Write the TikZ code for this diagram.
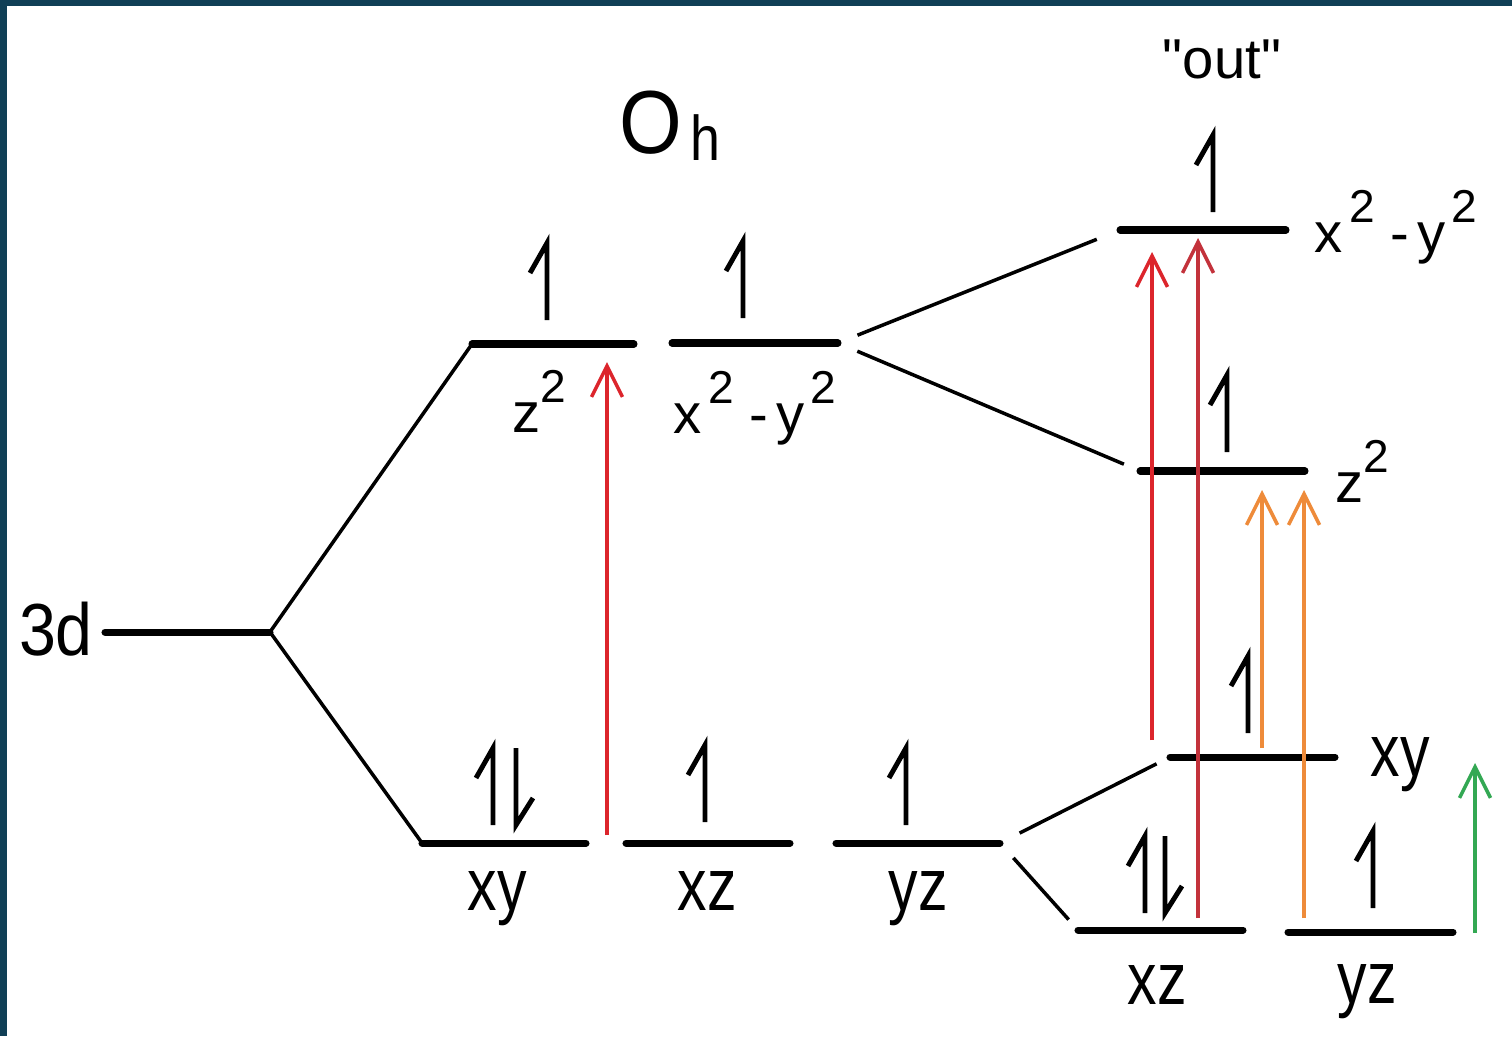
\documentclass[tikz,border=0pt]{standalone}
\usepackage{fontspec}
\setmainfont{Liberation Sans}[Ligatures=TeXOff]
\usepackage{graphicx}
\usetikzlibrary{arrows.meta,positioning}
\definecolor{framedark}{HTML}{103F56}
\definecolor{exred}{HTML}{DC252C}
\definecolor{excrimson}{HTML}{C3323B}
\definecolor{exorange}{HTML}{EE8B3A}
\definecolor{exgreen}{HTML}{33A853}
\newcommand{\sq}{\raisebox{0.52em}{\scalebox{0.82}{2}}}
\newcommand{\nar}[1]{\scalebox{0.8}[1]{#1}}

\begin{document}
\begin{tikzpicture}[
  x=0.02cm, y=-0.02cm,
  level/.style={line width=4pt, line cap=round},
  corr/.style={line width=2pt},
  spin/.style={line width=2.8pt},
  orblab/.style={inner sep=0pt, anchor=base, font=\fontsize{42}{48}\selectfont},
  suplab/.style={inner sep=0pt, anchor=base, font=\fontsize{32}{38}\selectfont},
  trans/.style={line width=2pt, -{Straight Barb[length=0.62cm, width=0.62cm]}}
]
  % canvas and frame
  \fill[white] (0,0) rectangle (1512,1036);
  \fill[framedark] (0,0) rectangle (1512,6);
  \fill[framedark] (0,0) rectangle (7,1036);

  % level end points
  \coordinate (d-l) at (105,632);    \coordinate (d-r) at (270,632);
  \coordinate (ohz-l) at (472,344);  \coordinate (ohz-r) at (634,344);
  \coordinate (ohx-l) at (672,343);  \coordinate (ohx-r) at (838,343);
  \coordinate (ohxy-l) at (422,843); \coordinate (ohxy-r) at (586,843);
  \coordinate (ohxz-l) at (626,843); \coordinate (ohxz-r) at (790,843);
  \coordinate (ohyz-l) at (836,843); \coordinate (ohyz-r) at (1000,843);
  \coordinate (ox-l) at (1120,230);  \coordinate (ox-r) at (1286,230);
  \coordinate (oz-l) at (1140,471);  \coordinate (oz-r) at (1305,471);
  \coordinate (oxy-l) at (1170,757); \coordinate (oxy-r) at (1335,757);
  \coordinate (oxz-l) at (1078,930); \coordinate (oxz-r) at (1243,930);
  \coordinate (oyz-l) at (1288,932); \coordinate (oyz-r) at (1453,932);

  % levels
  \foreach \lv in {d, ohz, ohx, ohxy, ohxz, ohyz, ox, oz, oxy, oxz, oyz}
    \draw[level] (\lv-l) -- (\lv-r);

  % correlation lines
  \draw[corr] (d-r) -- (ohz-l);
  \draw[corr] (d-r) -- (ohxy-l);
  \draw[corr, shorten <=0.42cm, shorten >=0.5cm] (ohx-r) -- (ox-l);
  \draw[corr, shorten <=0.42cm, shorten >=0.35cm] (ohx-r) -- (oz-l);
  \draw[corr, shorten <=0.44cm, shorten >=0.3cm] (ohyz-r) -- (oxy-l);
  \draw[corr, shorten <=0.4cm, shorten >=0.28cm] (ohyz-r) -- (oxz-l);

  % electrons
  \foreach \sx/\sy in {547/320, 743/318, 493/825, 705/822, 906/825,
                       1213/212, 1227/452, 1248/733, 1145/913, 1373/908}
    \draw[spin] (\sx,\sy) -- ++(0,-77) -- ++(-17,30);
  \foreach \sx/\sy in {516/825, 1165/913}
    \draw[spin] (\sx,\sy) ++(0,-77) -- (\sx,\sy) -- ++(17,-27);

  % transitions
  \coordinate (ta-s) at (607,835);  \coordinate (ta-e) at (607,362);
  \coordinate (tb-s) at (1152,740); \coordinate (tb-e) at (1152,252);
  \coordinate (tc-s) at (1198,918); \coordinate (tc-e) at (1198,238);
  \coordinate (td-s) at (1262,748); \coordinate (td-e) at (1262,490);
  \coordinate (te-s) at (1304,918); \coordinate (te-e) at (1304,490);
  \coordinate (tf-s) at (1475,933); \coordinate (tf-e) at (1475,763);
  \draw[trans, exred] (ta-s) -- (ta-e);
  \draw[trans, exred] (tb-s) -- (tb-e);
  \draw[trans, excrimson] (tc-s) -- (tc-e);
  \draw[trans, exorange] (td-s) -- (td-e);
  \draw[trans, exorange] (te-s) -- (te-e);
  \draw[trans, exgreen] (tf-s) -- (tf-e);

  % labels
  \node[orblab] (lab3d) at (56,655) {\scalebox{0.9}[1]{3d}};
  \node[inner sep=0pt, anchor=base west] (ohlab) at (619,153)
    {\fontsize{51}{58}\selectfont\scalebox{0.9}[1]{O}\kern5pt\raisebox{-4pt}{\fontsize{36}{40}\selectfont\scalebox{0.85}[1]{h}}};
  \node[suplab] (outlab) at (1222,78) {"out"};
  \node[suplab] (ohzlab) at (539,432) {z\sq};
  \node[suplab] (ohxlab) at (755,433) {x\kern0.12em\sq\ -\kern0.15em y\kern0.1em\sq};
  \node[suplab] (oxlab) at (1396,252) {x\kern0.12em\sq\ -\kern0.15em y\kern0.1em\sq};
  \node[suplab] (ozlab) at (1362,502) {z\sq};
  \node[orblab] (ohxylab) at (497,910) {\nar{xy}};
  \node[orblab] (ohxzlab) at (707,910) {\nar{xz}};
  \node[orblab] (ohyzlab) at (918,910) {\nar{yz}};
  \node[orblab] (oxylab) at (1400,776) {\nar{xy}};
  \node[orblab] (oxzlab) at (1157,1004) {\nar{xz}};
  \node[orblab] (oyzlab) at (1367,1003) {\nar{yz}};
\end{tikzpicture}
\end{document}
